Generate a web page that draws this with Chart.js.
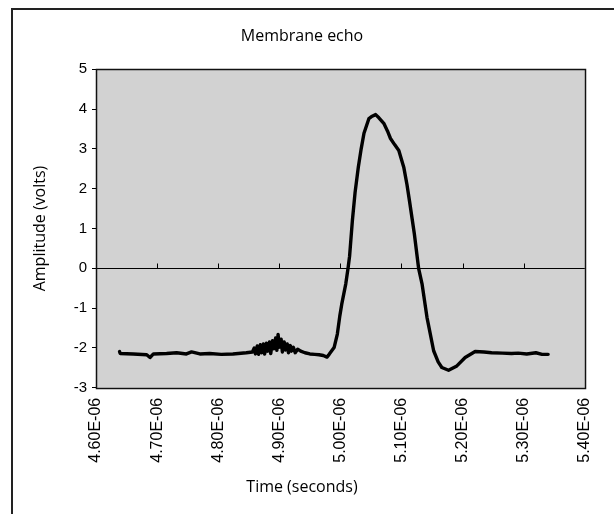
<!DOCTYPE html>
<html>
<head>
<meta charset="utf-8">
<script src="https://cdn.jsdelivr.net/npm/chart.js@4.4.1/dist/chart.umd.min.js"></script>
<style>
  html, body { margin: 0; padding: 0; background: #ffffff; }
  #wrap { position: relative; width: 614px; height: 514px; overflow: hidden; }
  #frame { position: absolute; left: 11px; top: 8px; width: 620px; height: 520px;
           border-left: 2px solid #222; border-top: 2px solid #222; box-sizing: border-box; }
  canvas { position: absolute; left: 0; top: 0; }
</style>
</head>
<body>
<div id="wrap">
  <div id="frame"></div>
  <canvas id="c" width="614" height="514"></canvas>
</div>
<script>
// ---- data (time in microseconds, amplitude in volts) ----
const timeMicros = [
  4.6385, 4.6396, 4.661, 4.683, 4.6884, 4.694, 4.7156, 4.732, 4.748, 4.7564,
  4.770, 4.786, 4.805, 4.824, 4.846, 4.856, 4.859, 4.861, 4.864, 4.866,
  4.869, 4.871, 4.874, 4.876, 4.879, 4.881, 4.884, 4.886, 4.889, 4.891,
  4.894, 4.896, 4.898, 4.900, 4.903, 4.905, 4.908, 4.910, 4.913, 4.915,
  4.918, 4.920, 4.923, 4.926, 4.930, 4.935, 4.942, 4.950, 4.958, 4.965,
  4.972, 4.978, 4.9816, 4.9897, 4.995, 4.999, 5.0022, 5.0088, 5.0125, 5.015,
  5.0196, 5.024, 5.0293, 5.034, 5.0386, 5.0467, 5.052, 5.0577, 5.063, 5.071,
  5.077, 5.082, 5.089, 5.0956, 5.1037, 5.109, 5.113, 5.121, 5.128, 5.1336,
  5.1417, 5.1526, 5.160, 5.166, 5.177, 5.1906, 5.2042, 5.2205, 5.235, 5.2475,
  5.265, 5.280, 5.291, 5.305, 5.320, 5.330, 5.340
];
const amplitudeVolts = [
  -2.09, -2.14, -2.15, -2.17, -2.24, -2.15, -2.14, -2.12, -2.15, -2.10,
  -2.15, -2.14, -2.16, -2.15, -2.12, -2.10, -2.00, -2.15, -1.95, -2.16,
  -1.92, -2.12, -1.90, -2.15, -1.88, -2.08, -1.85, -2.14, -1.82, -2.02,
  -1.75, -2.06, -1.66, -1.98, -1.78, -2.10, -1.85, -2.05, -1.90, -2.12,
  -1.94, -2.08, -1.98, -2.12, -2.03, -2.08, -2.12, -2.15, -2.16, -2.17,
  -2.19, -2.23, -2.16, -1.99, -1.65, -1.20, -0.90, -0.39, 0.00, 0.30,
  1.20, 1.90, 2.54, 3.00, 3.39, 3.76, 3.82, 3.86, 3.78, 3.64,
  3.45, 3.26, 3.10, 2.96, 2.54, 2.10, 1.70, 0.87, 0.00, -0.39,
  -1.23, -2.07, -2.35, -2.49, -2.56, -2.45, -2.24, -2.09, -2.10, -2.12,
  -2.13, -2.14, -2.13, -2.15, -2.12, -2.16, -2.16
];
const xTickValuesMicros = [4.6, 4.7, 4.8, 4.9, 5.0, 5.1, 5.2, 5.3, 5.4];
const xTickLabels = ["4.60E-06","4.70E-06","4.80E-06","4.90E-06","5.00E-06","5.10E-06","5.20E-06","5.30E-06","5.40E-06"];
const yTickValues = [-3, -2, -1, 0, 1, 2, 3, 4, 5];

const points = timeMicros.map((t, i) => ({ x: t * 1e-6, y: amplitudeVolts[i] }));

const plotDecor = {
  id: 'plotDecor',
  beforeDraw(chart) {
    const { ctx, chartArea: a } = chart;
    ctx.save();
    ctx.fillStyle = '#d2d2d2';
    ctx.fillRect(a.left, a.top, a.right - a.left, a.bottom - a.top);
    ctx.restore();
  },
  beforeDatasetsDraw(chart) {
    const { ctx, chartArea: a, scales: { x, y } } = chart;
    ctx.save();
    const y0 = Math.round(y.getPixelForValue(0)) + 0.5;
    ctx.strokeStyle = '#000';
    ctx.lineWidth = 1;
    ctx.beginPath();
    ctx.moveTo(a.left, y0); ctx.lineTo(a.right, y0);
    xTickValuesMicros.forEach(v => {
      const px = Math.round(x.getPixelForValue(v * 1e-6)) + 0.5;
      ctx.moveTo(px, y0); ctx.lineTo(px, y0 - 5);
    });
    ctx.stroke();
    ctx.restore();
  },
  afterDraw(chart) {
    const { ctx, chartArea: a } = chart;
    ctx.save();
    ctx.strokeStyle = '#111';
    ctx.lineWidth = 1.5;
    ctx.strokeRect(Math.round(a.left) + 0.5, Math.round(a.top) + 0.5,
                   Math.round(a.right - a.left), Math.round(a.bottom - a.top));
    ctx.restore();
  }
};

new Chart(document.getElementById('c'), {
  type: 'scatter',
  data: {
    datasets: [{
      data: points,
      showLine: true,
      borderColor: '#000',
      borderWidth: 3.4,
      borderJoinStyle: 'round',
      borderCapStyle: 'round',
      pointRadius: 0,
      tension: 0,
      fill: false
    }]
  },
  options: {
    responsive: false,
    animation: false,
    events: [],
    layout: { padding: { left: 17, right: 27, top: 0, bottom: 0 } },
    plugins: {
      legend: { display: false },
      tooltip: { enabled: false },
      title: {
        display: true,
        text: 'Membrane echo',
        color: '#000',
        font: { family: '"Open Sans", "Noto Sans", sans-serif', size: 16, weight: 'normal' },
        padding: { top: 27, bottom: 23 }
      },
      subtitle: {
        display: true,
        position: 'bottom',
        text: 'Time (seconds)',
        color: '#000',
        font: { family: '"Open Sans", "Noto Sans", sans-serif', size: 16, weight: 'normal' },
        padding: { top: 0, bottom: 17 }
      }
    },
    scales: {
      x: {
        type: 'linear',
        position: 'bottom',
        min: 4.6e-6,
        max: 5.4e-6,
        afterBuildTicks(scale) {
          scale.ticks = xTickValuesMicros.map(v => ({ value: v * 1e-6 }));
        },
        afterFit(scale) { scale.height = 90; },
        grid: { display: false, drawTicks: false },
        border: { display: false },
        ticks: {
          autoSkip: false,
          minRotation: 90,
          maxRotation: 90,
          padding: 10,
          color: '#000',
          font: { family: '"Liberation Sans", Arial, sans-serif', size: 16 },
          callback(value, index) { return xTickLabels[index]; }
        }
      },
      y: {
        min: -3,
        max: 5,
        afterBuildTicks(scale) {
          scale.ticks = yTickValues.map(v => ({ value: v }));
        },
        afterFit(scale) { scale.width = 79; },
        grid: {
          display: true,
          drawOnChartArea: false,
          drawTicks: true,
          tickLength: 4,
          tickColor: '#000'
        },
        border: { display: true, color: '#000', width: 1 },
        ticks: {
          padding: 5,
          color: '#000',
          font: { family: '"Liberation Sans", Arial, sans-serif', size: 15 }
        },
        title: {
          display: true,
          text: 'Amplitude (volts)',
          color: '#000',
          font: { family: '"Open Sans", "Noto Sans", sans-serif', size: 16 },
          padding: { top: 14, bottom: 0 }
        }
      }
    }
  },
  plugins: [plotDecor]
});
</script>
</body>
</html>
